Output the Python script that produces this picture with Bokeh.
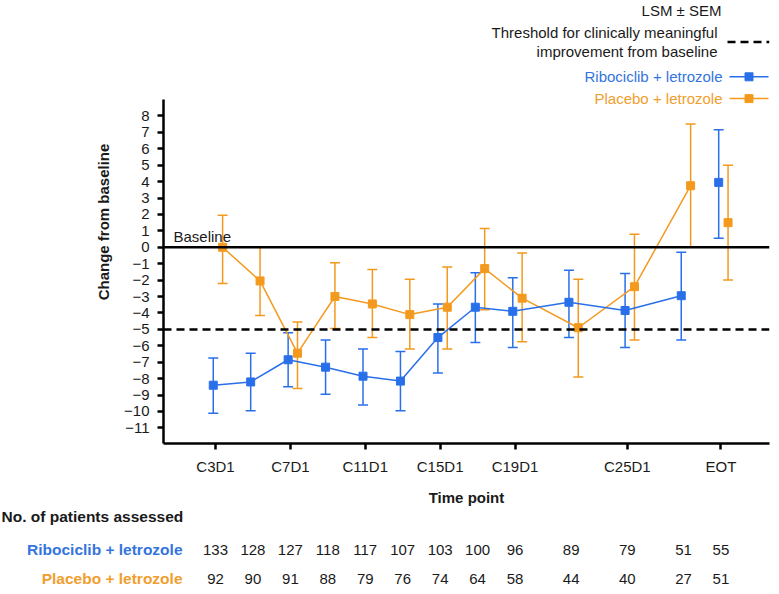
from bokeh.plotting import figure
from bokeh.layouts import column
from bokeh.models import (ColumnDataSource, Range1d, FixedTicker, Span, Whisker, TeeHead, Label)
from bokeh.core.properties import value
from bokeh.embed import file_html
from bokeh.resources import INLINE

# ---------------- data ----------------
cycles = [3, 5, 7, 9, 11, 13, 15, 17, 19, 22, 25, 28]
eot_x = 30
tick_pos = [3, 7, 11, 15, 19, 25, 30]
tick_labels = ["C3D1", "C7D1", "C11D1", "C15D1", "C19D1", "C25D1", "EOT"]
y_ticks = list(range(-11, 9))
y_tick_labels = [("\u2212" + str(-v)) if v < 0 else str(v) for v in y_ticks]

ribo_mean = [-8.4, -8.2, -6.85, -7.3, -7.85, -8.15, -5.5, -3.65, -3.9, -3.35, -3.85, -2.95]
ribo_upper = [-6.75, -6.45, -5.2, -5.65, -6.2, -6.35, -3.45, -1.55, -1.85, -1.4, -1.6, -0.3]
ribo_lower = [-10.1, -9.95, -8.5, -8.95, -9.6, -9.95, -7.65, -5.8, -6.1, -5.5, -6.1, -5.65]
ribo_eot = [3.95]
ribo_eot_upper = [7.15]
ribo_eot_lower = [0.55]

plac_mean = [0.0, -2.05, -6.45, -3.0, -3.45, -4.1, -3.65, -1.3, -3.1, -4.9, -2.4, 3.75]
plac_upper = [1.95, 0.0, -4.55, -0.95, -1.35, -1.95, -1.2, 1.15, -0.35, -1.95, 0.8, 7.5]
plac_lower = [-2.2, -4.15, -8.6, -4.95, -5.5, -6.2, -6.2, -3.8, -5.75, -7.9, -5.65, 0.0]
plac_eot = [1.5]
plac_eot_upper = [5.0]
plac_eot_lower = [-2.0]

count_x = cycles + [eot_x]
ribo_n = [133, 128, 127, 118, 117, 107, 103, 100, 96, 89, 79, 51, 55]
plac_n = [92, 90, 91, 88, 79, 76, 74, 64, 58, 44, 40, 27, 51]

# ---------------- style / layout ----------------
BLUE = "#2A6FEA"
ORANGE = "#F39A1E"
BLUE_TXT = "#3474DE"
ORANGE_TXT = "#F09E2E"
TXT = "#1a1a1a"
FONT = "Liberation Sans"
DODGE_R = -0.12
DODGE_P = 0.38

W = 771
H_MAIN = 508
H_TAB = 78
FRAME_L, FRAME_R, FRAME_B = 163, 769, 447
PX_C3, PX_PER_CYCLE = 215, 18.72      # x scale: pixel of cycle 3, pixels per cycle
PX_ZERO, PX_PER_UNIT = 249, 16.57     # y scale: pixel of 0, pixels per unit
Y_AXIS_TOP = 9.0

def cx(px):
    return 3 + (px - PX_C3) / PX_PER_CYCLE

def cy(py):
    return (PX_ZERO - py) / PX_PER_UNIT

X0, X1 = cx(FRAME_L), cx(FRAME_R)
Y0, YTOP = cy(FRAME_B), cy(0)

p = figure(width=W, height=H_MAIN, x_range=Range1d(X0, X1), y_range=Range1d(Y0, YTOP),
           output_backend="svg", toolbar_location=None, title=None,
           min_border_left=FRAME_L, min_border_right=W - FRAME_R, min_border_top=0,
           min_border_bottom=H_MAIN - FRAME_B)
p.frame_align = False
p.outline_line_color = None
p.xgrid.visible = False
p.ygrid.visible = False
p.background_fill_color = "white"
p.border_fill_color = "white"

for ax in (p.xaxis[0], p.yaxis[0]):
    ax.axis_line_width = 2.5
    ax.axis_line_color = "black"
    ax.major_tick_line_width = 2.5
    ax.major_tick_line_color = "black"
    ax.major_tick_in = 0
    ax.major_tick_out = 6
    ax.minor_tick_line_color = None
    ax.major_label_text_font = FONT
    ax.major_label_text_font_size = "15px"
    ax.major_label_text_color = TXT
    ax.axis_label_text_font = FONT
    ax.axis_label_text_font_size = "15px"
    ax.axis_label_text_font_style = "bold"
    ax.axis_label_text_color = TXT

p.xaxis.ticker = FixedTicker(ticks=tick_pos)
p.xaxis.major_label_overrides = dict(zip(tick_pos, tick_labels))
p.xaxis.major_label_standoff = 8
p.xaxis.axis_label = "Time point"
p.xaxis.axis_label_standoff = 11

p.yaxis.ticker = FixedTicker(ticks=y_ticks)
p.yaxis.major_label_overrides = dict(zip(y_ticks, y_tick_labels))
p.yaxis.major_label_standoff = 8
p.yaxis.axis_label = "Change from baseline"
p.yaxis.axis_label_standoff = 9
p.yaxis.bounds = (Y0, Y_AXIS_TOP)

# reference lines
p.add_layout(Span(location=0, dimension="width", line_color="black", line_width=2.5))
p.add_layout(Span(location=-5, dimension="width", line_color="black", line_width=2.5,
                  line_dash="8 5"))

def txt(fig, x, y, s, color=TXT, align="right", bold=False, size="15px"):
    fig.add_layout(Label(x=x, y=y, text=s, text_font=FONT, text_font_size=size,
                         text_color=color, text_align=align, text_baseline="middle",
                         text_font_style="bold" if bold else "normal"))

txt(p, cx(173), cy(238), "Baseline", align="left")

# series
def series(xs, mean, up, lo, dodge, color, connect=True):
    src = ColumnDataSource(dict(x=[v + dodge for v in xs], m=mean, u=up, l=lo))
    p.add_layout(Whisker(source=src, base="x", upper="u", lower="l", dimension="height",
                         line_color=color, line_width=1.5,
                         upper_head=TeeHead(size=10, line_color=color, line_width=1.5),
                         lower_head=TeeHead(size=10, line_color=color, line_width=1.5)))
    if connect:
        p.line("x", "m", source=src, line_color=color, line_width=1.5)
    p.scatter("x", "m", source=src, marker="square", size=8, fill_color=color,
              line_color=color)

series(cycles, plac_mean, plac_upper, plac_lower, DODGE_P, ORANGE)
series([eot_x], plac_eot, plac_eot_upper, plac_eot_lower, DODGE_P, ORANGE, False)
series(cycles, ribo_mean, ribo_upper, ribo_lower, DODGE_R, BLUE)
series([eot_x], ribo_eot, ribo_eot_upper, ribo_eot_lower, DODGE_R, BLUE, False)

# legend (top right, drawn by hand, inside the extended frame)
txt(p, cx(721), cy(10), "LSM \u00b1 SEM")
txt(p, cx(717), cy(32), "Threshold for clinically meaningful")
txt(p, cx(717), cy(51), "improvement from baseline")
p.line([cx(727), cx(769)], [cy(42), cy(42)], line_color="black", line_width=2.5,
       line_dash="8 5")
for ypx, name, col, tcol in ((77, "Ribociclib + letrozole", BLUE, BLUE_TXT),
                             (99, "Placebo + letrozole", ORANGE, ORANGE_TXT)):
    txt(p, cx(722), cy(ypx), name, color=tcol)
    p.line([cx(729), cx(768)], [cy(ypx), cy(ypx)], line_color=col, line_width=1.5)
    p.scatter([cx(748.5)], [cy(ypx)], marker="square", size=8, fill_color=col,
              line_color=col)

# ---------------- number-of-patients table ----------------
t = figure(width=W, height=H_TAB, x_range=Range1d(cx(0), cx(W)),
           y_range=Range1d(H_TAB, 0), output_backend="svg", toolbar_location=None,
           title=None, min_border=0, min_border_left=0, min_border_right=0,
           min_border_top=0, min_border_bottom=0)
t.frame_align = False
t.axis.visible = False
t.xgrid.visible = False
t.ygrid.visible = False
t.outline_line_color = None
t.background_fill_color = "white"
t.border_fill_color = "white"

ROW_HEAD, ROW_R, ROW_P = 8, 41, 70   # rows, pixels from the top of the table

txt(t, cx(1), ROW_HEAD, "No. of patients assessed", align="left", bold=True, size="15.5px")
txt(t, cx(182), ROW_R, "Ribociclib + letrozole", color=BLUE_TXT, bold=True, size="15.5px")
txt(t, cx(182), ROW_P, "Placebo + letrozole", color=ORANGE_TXT, bold=True, size="15.5px")

for ns, yrow in ((ribo_n, ROW_R), (plac_n, ROW_P)):
    src = ColumnDataSource(dict(x=count_x, y=[yrow] * len(count_x),
                                t=[str(n) for n in ns]))
    t.text("x", "y", text="t", source=src, text_align="center", text_baseline="middle",
           text_font=value(FONT), text_font_size=value("15px"), text_color=TXT)

layout = column(p, t, spacing=0)
open("out.html", "w").write(file_html(layout, INLINE))
